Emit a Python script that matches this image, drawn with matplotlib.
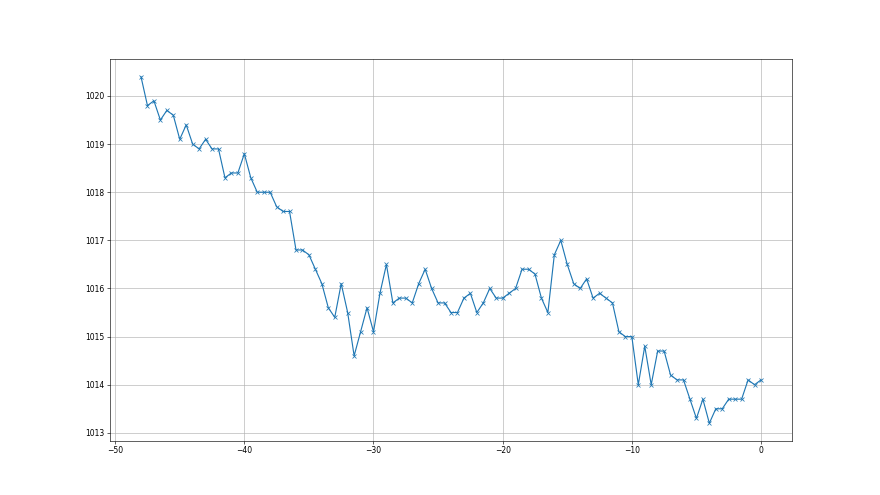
import numpy as np
import matplotlib
matplotlib.use("Agg")
import matplotlib.pyplot as plt

# hours relative to now, half-hour steps
hours = np.arange(-48, 0.01, 0.5)

pressure = [
    1020.4, 1019.8, 1019.9, 1019.5, 1019.7, 1019.6, 1019.1, 1019.4, 1019.0, 1018.9,
    1019.1, 1018.9, 1018.9, 1018.3, 1018.4, 1018.4, 1018.8, 1018.3, 1018.0, 1018.0,
    1018.0, 1017.7, 1017.6, 1017.6, 1016.8, 1016.8, 1016.7, 1016.4, 1016.1, 1015.6,
    1015.4, 1016.1, 1015.5, 1014.6, 1015.1, 1015.6, 1015.1, 1015.9, 1016.5, 1015.7,
    1015.8, 1015.8, 1015.7, 1016.1, 1016.4, 1016.0, 1015.7, 1015.7, 1015.5, 1015.5,
    1015.8, 1015.9, 1015.5, 1015.7, 1016.0, 1015.8, 1015.8, 1015.9, 1016.0, 1016.4,
    1016.4, 1016.3, 1015.8, 1015.5, 1016.7, 1017.0, 1016.5, 1016.1, 1016.0, 1016.2,
    1015.8, 1015.9, 1015.8, 1015.7, 1015.1, 1015.0, 1015.0, 1014.0, 1014.8, 1014.0,
    1014.7, 1014.7, 1014.2, 1014.1, 1014.1, 1013.7, 1013.3, 1013.7, 1013.2, 1013.5,
    1013.5, 1013.7, 1013.7, 1013.7, 1014.1, 1014.0, 1014.1,
]

fig = plt.figure(figsize=(16, 9))
plt.plot(hours, pressure, marker="x")
plt.grid(True)
fig.savefig("out.png", dpi=55)
